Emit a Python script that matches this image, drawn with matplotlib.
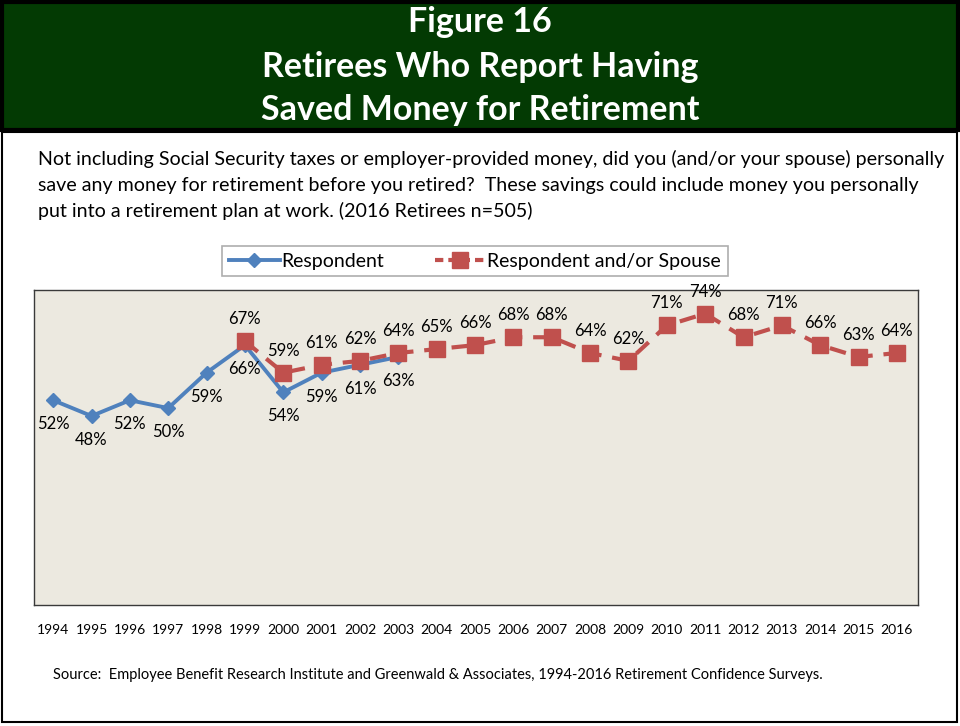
import matplotlib.pyplot as plt
from matplotlib.patches import Rectangle
from matplotlib.lines import Line2D

plt.rcParams['font.family'] = ['Lato', 'DejaVu Sans']

years = list(range(1994, 2017))
tick_labels = [str(y) for y in years]

respondent_years = list(range(1994, 2004))
respondent = [52, 48, 52, 50, 59, 66, 54, 59, 61, 63]

spouse_years = list(range(1999, 2017))
spouse = [67, 59, 61, 62, 64, 65, 66, 68, 68, 64, 62, 71, 74, 68, 71, 66, 63, 64]

title_lines = ["Figure 16", "Retirees Who Report Having", "Saved Money for Retirement"]
question_lines = [
    "Not including Social Security taxes or employer-provided money, did you (and/or your spouse) personally",
    "save any money for retirement before you retired?  These savings could include money you personally",
    "put into a retirement plan at work. (2016 Retirees n=505)",
]
source = "Source:  Employee Benefit Research Institute and Greenwald & Associates, 1994-2016 Retirement Confidence Surveys."

BLUE = '#4F81BD'
RED = '#C0504D'
W, H = 960, 726

fig = plt.figure(figsize=(W / 100, H / 100), dpi=100)
fig.patch.set_facecolor('white')

def fx(px):
    return px / W

def fy(py):
    return 1 - py / H

# outer frame of the slide body
fig.add_artist(Rectangle((fx(2), fy(722)), fx(955), (720 - 130) / H, transform=fig.transFigure,
                         facecolor='none', edgecolor='black', lw=1.5))
# dark green heading band
fig.add_artist(Rectangle((fx(1.5), fy(130)), fx(956), 128.5 / H, transform=fig.transFigure,
                         facecolor='#033A03', edgecolor='black', lw=3))
for txt, py in zip(title_lines, [22, 67, 110]):
    fig.text(0.5, fy(py), txt, ha='center', va='center', color='white',
             fontsize=24.5, fontweight='bold')

for txt, py in zip(question_lines, [159, 185, 211]):
    fig.text(fx(38), fy(py), txt, ha='left', va='center', fontsize=14.15, color='black')

ax = fig.add_axes([fx(34), fy(605), fx(918 - 34), (605 - 290) / H])
ax.set_facecolor('#ECE9E0')
for s in ax.spines.values():
    s.set_color('#3a3a3a')
    s.set_linewidth(1.0)

ax.plot(respondent_years, respondent, color=BLUE, lw=2.8, marker='D', ms=7,
        markerfacecolor=BLUE, markeredgecolor=BLUE, zorder=3, label='Respondent')
ax.plot(spouse_years, spouse, color=RED, lw=3, ls=(0, (4, 2.6)), marker='s', ms=11,
        markerfacecolor=RED, markeredgecolor=RED, zorder=4, label='Respondent and/or Spouse')

for x, v in zip(respondent_years, respondent):
    ax.annotate(f"{v}%", (x, v), xytext=(0, -24), textcoords='offset pixels',
                ha='center', va='center', fontsize=12, annotation_clip=False)
for x, v in zip(spouse_years, spouse):
    ax.annotate(f"{v}%", (x, v), xytext=(0, 22), textcoords='offset pixels',
                ha='center', va='center', fontsize=12, annotation_clip=False)

ax.set_xlim(1993.5, 2016.55)
ax.set_ylim(0, 80)
ax.set_yticks([])
ax.set_xticks(years)
ax.set_xticklabels(tick_labels, fontsize=10)
ax.tick_params(axis='x', length=0, pad=14)

handles = [Line2D([], [], color=BLUE, lw=2.8, marker='D', ms=7),
           Line2D([], [], color=RED, lw=3, ls=(0, (2.0, 1.2)), marker='s', ms=11)]
leg = fig.legend(handles, ['Respondent', 'Respondent and/or Spouse'], loc='center',
                 bbox_to_anchor=(fx(475), fy(261)), ncol=2, fontsize=14, frameon=True,
                 fancybox=False, edgecolor='#9a9a9a', handlelength=2.6, handletextpad=0.1,
                 columnspacing=2.6, borderpad=0.35, borderaxespad=0)
leg.get_frame().set_linewidth(1.2)

fig.text(fx(53), fy(675), source, ha='left', va='center', fontsize=10.5)

fig.savefig('out.png', dpi=100, facecolor='white')
